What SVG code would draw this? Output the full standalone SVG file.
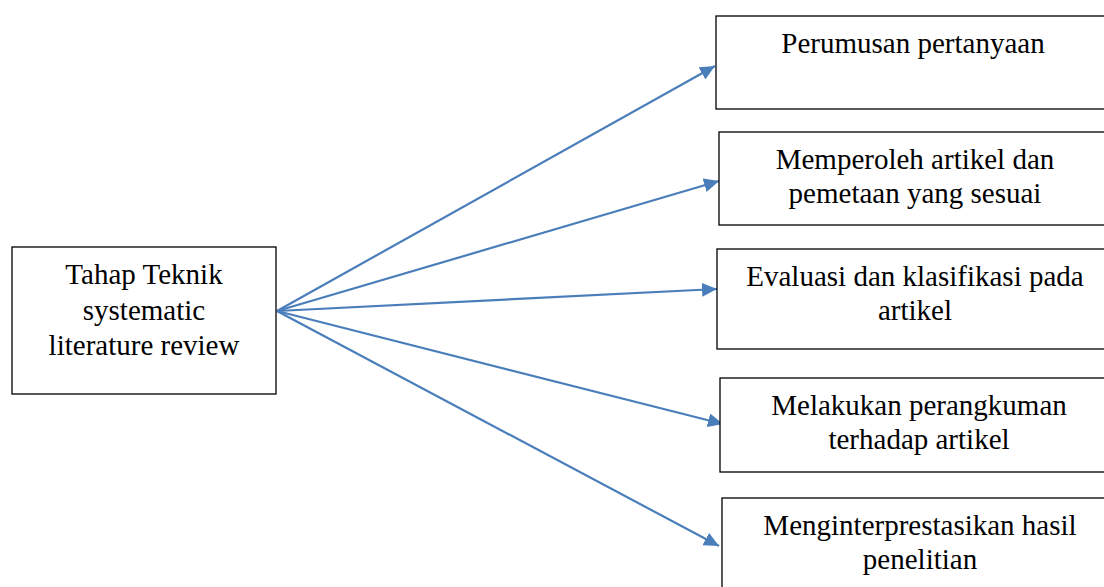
<svg xmlns="http://www.w3.org/2000/svg" width="1104" height="587" viewBox="0 0 1104 587">
<style>
.box{fill:#fff;stroke:#000;stroke-width:1.3}
.t{font-family:"Liberation Serif","Times New Roman",serif;font-size:29px;fill:#000;text-anchor:middle}
.c{stroke:#4a7ebb;stroke-width:2.2;fill:none;marker-end:url(#ah)}
</style>
<defs>
<marker id="ah" markerUnits="userSpaceOnUse" markerWidth="16" markerHeight="14" refX="15" refY="7" orient="auto">
<path d="M0,0 L15,7 L0,14 z" fill="#4a7ebb"/>
</marker>
</defs>
<rect width="1104" height="587" fill="#fff"/>
<g id="connectors">
<line class="c" x1="277" y1="311" x2="715" y2="66"/>
<line class="c" x1="277" y1="311" x2="719" y2="181"/>
<line class="c" x1="277" y1="311" x2="717" y2="289"/>
<line class="c" x1="277" y1="311" x2="723" y2="424"/>
<line class="c" x1="277" y1="311" x2="719" y2="546"/>
</g>
<g id="node-main">
<rect class="box" x="12" y="247" width="264" height="147"/>
<text class="t" x="144" y="284">Tahap Teknik</text>
<text class="t" x="144" y="320">systematic</text>
<text class="t" x="144" y="355">literature review</text>
</g>
<g id="node-1">
<rect class="box" x="716" y="16" width="392" height="93"/>
<text class="t" x="913" y="53">Perumusan pertanyaan</text>
</g>
<g id="node-2">
<rect class="box" x="719" y="132" width="389" height="93"/>
<text class="t" x="915" y="169">Memperoleh artikel dan</text>
<text class="t" x="915" y="203">pemetaan yang sesuai</text>
</g>
<g id="node-3">
<rect class="box" x="717" y="249" width="391" height="100"/>
<text class="t" x="915" y="286">Evaluasi dan klasifikasi pada</text>
<text class="t" x="915" y="320">artikel</text>
</g>
<g id="node-4">
<rect class="box" x="720" y="378" width="388" height="94"/>
<text class="t" x="919" y="415">Melakukan perangkuman</text>
<text class="t" x="919" y="449">terhadap artikel</text>
</g>
<g id="node-5">
<rect class="box" x="722" y="498" width="386" height="100"/>
<text class="t" x="920" y="535">Menginterprestasikan hasil</text>
<text class="t" x="920" y="569">penelitian</text>
</g>
</svg>
